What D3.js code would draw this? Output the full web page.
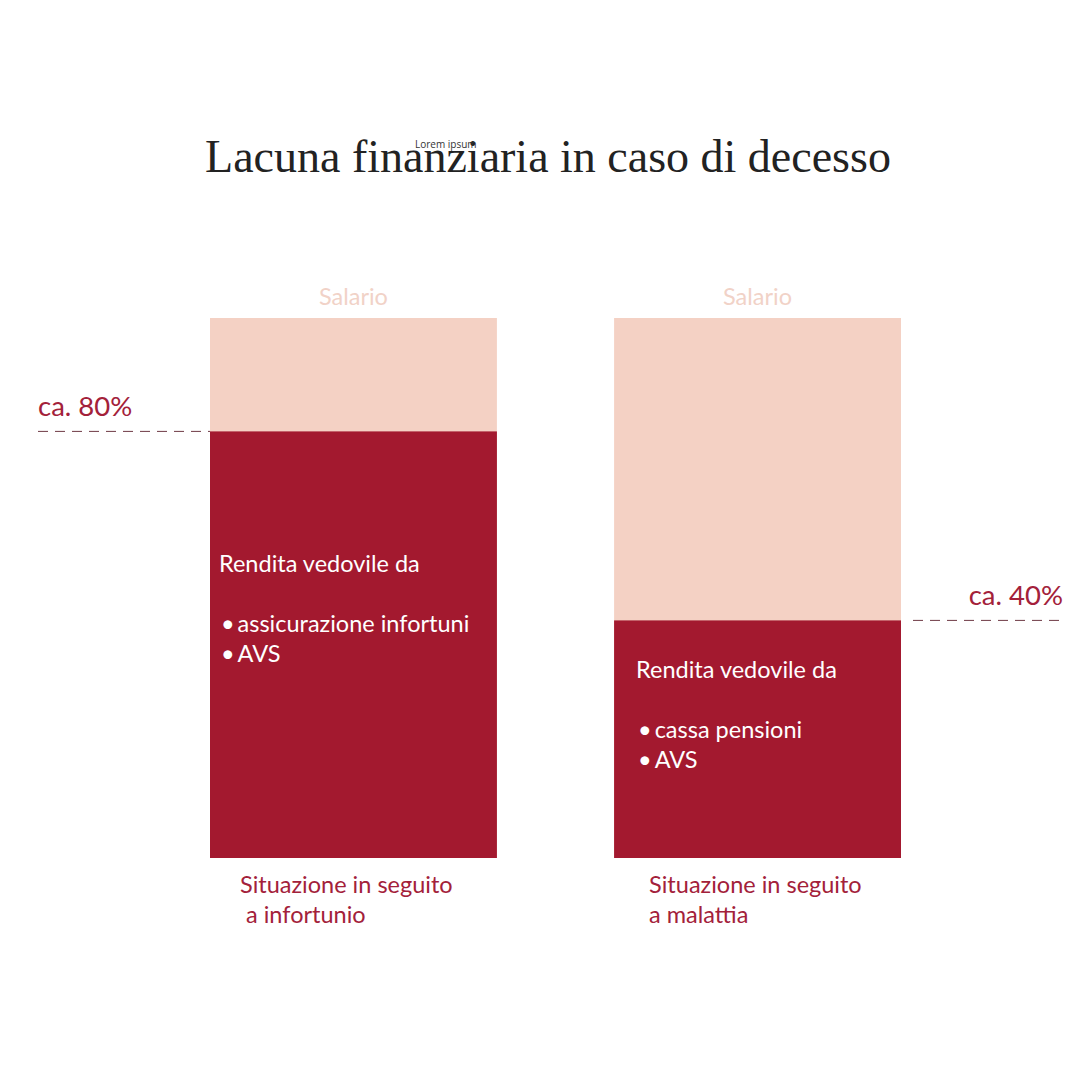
<!DOCTYPE html>
<html>
<head>
<meta charset="utf-8">
<script src="https://cdn.jsdelivr.net/npm/d3@7"></script>
<style>
  body { margin: 0; background: #fff; }
  svg { display: block; }
</style>
</head>
<body>
<script>
// chart data
var categories = ["Situazione in seguito a infortunio", "Situazione in seguito a malattia"];
var salario = [100, 100];            // whole bar = salary
var rendita = [79, 44];              // widow's pension share (dark part)
var gapLabels = ["ca. 80%", "ca. 40%"];
var sources = [["assicurazione infortuni", "AVS"], ["cassa pensioni", "AVS"]];
var bottomLabels = [["Situazione in seguito", " a infortunio"], ["Situazione in seguito", "a malattia"]];

var width = 1080, height = 1080;
var dark = "#a3192f", light = "#f4d1c4", labelRed = "#a3213a";
var sans = "Lato, sans-serif";

var svg = d3.select("body").append("svg")
    .attr("width", width)
    .attr("height", height);

var x = d3.scaleBand()
    .domain(categories)
    .range([210, 901])
    .paddingInner(0.29)
    .paddingOuter(0);

var y = d3.scaleLinear()
    .domain([0, 100])
    .range([858, 318]);

//title
svg.append("text")
    .attr("x", 548).attr("y", 172)
    .attr("text-anchor", "middle")
    .style("font-family", "'Liberation Serif', serif")
    .style("font-size", "46px")
    .attr("fill", "#222")
    .text("Lacuna finanziaria in caso di decesso");

svg.append("text")
    .attr("x", 415).attr("y", 148)
    .style("font-family", "'Open Sans', sans-serif")
    .style("font-size", "10px")
    .attr("fill", "#333")
    .text("Lorem ipsum");

var bars = svg.selectAll(".bar")
    .data(categories)
    .enter().append("g")
    .attr("class", "bar");

//salary (light) part
bars.append("rect")
    .attr("x", function(d){ return x(d); })
    .attr("y", function(d, i){ return y(salario[i]); })
    .attr("width", x.bandwidth())
    .attr("height", function(d, i){ return y(0) - y(salario[i]); })
    .attr("fill", light);

//pension (dark) part
bars.append("rect")
    .attr("x", function(d){ return x(d); })
    .attr("y", function(d, i){ return y(rendita[i]); })
    .attr("width", x.bandwidth())
    .attr("height", function(d, i){ return y(0) - y(rendita[i]); })
    .attr("fill", dark);

//"Salario" labels
bars.append("text")
    .attr("x", function(d){ return x(d) + x.bandwidth() / 2; })
    .attr("y", function(d, i){ return y(salario[i]) - 13; })
    .attr("text-anchor", "middle")
    .style("font-family", sans)
    .style("font-size", "23.5px")
    .attr("fill", "#f1d2c7")
    .text("Salario");

//dashed reference lines + percentage labels
var lineSpan = [[38, 210], [913, 1065]];
bars.append("line")
    .attr("x1", function(d, i){ return lineSpan[i][0]; })
    .attr("x2", function(d, i){ return lineSpan[i][1]; })
    .attr("y1", function(d, i){ return y(rendita[i]); })
    .attr("y2", function(d, i){ return y(rendita[i]); })
    .attr("stroke", "#6e3a45")
    .attr("stroke-width", 1)
    .attr("stroke-dasharray", "10,7");

bars.append("text")
    .attr("x", function(d, i){ return i === 0 ? 38 : 1063; })
    .attr("y", function(d, i){ return y(rendita[i]) - 15; })
    .attr("text-anchor", function(d, i){ return i === 0 ? "start" : "end"; })
    .style("font-family", sans)
    .style("font-size", "27.5px")
    .attr("fill", labelRed)
    .text(function(d, i){ return gapLabels[i]; });

//text inside the dark part
var inset = [9, 22], drop = [141, 58];
bars.each(function(d, i){
    var g = d3.select(this);
    var tx = x(d) + inset[i], ty = y(rendita[i]) + drop[i];
    var t = g.append("text")
        .style("font-family", sans)
        .style("font-size", "23.5px")
        .attr("fill", "#fff");
    t.append("tspan").attr("x", tx).attr("y", ty).text("Rendita vedovile da");
    sources[i].forEach(function(s, k){
        t.append("tspan").attr("x", tx + 2).attr("y", ty + 60 + k * 30).text("\u2022\u2009" + s);
    });
});

//bottom category labels
var labelInset = [30, 35];
bars.each(function(d, i){
    var t = d3.select(this).append("text")
        .style("font-family", sans)
        .style("font-size", "23.5px")
        .attr("fill", labelRed)
        .attr("xml:space", "preserve");
    bottomLabels[i].forEach(function(s, k){
        t.append("tspan")
            .attr("x", x(d) + labelInset[i])
            .attr("y", y(0) + 35 + k * 30)
            .text(s);
    });
});
</script>
</body>
</html>
